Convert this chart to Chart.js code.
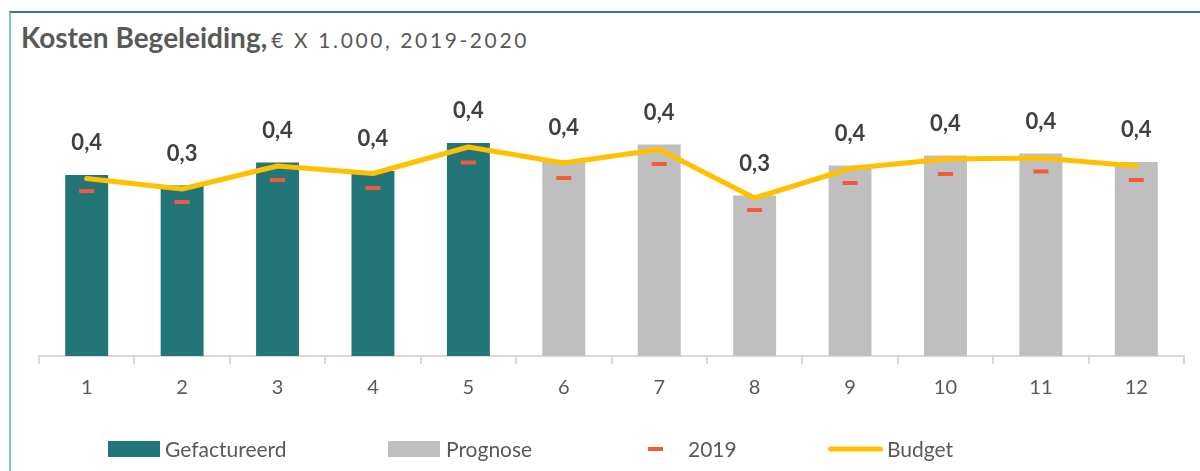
<!DOCTYPE html>
<html lang="nl">
<head>
<meta charset="utf-8">
<title>Kosten Begeleiding</title>
<script src="https://cdn.jsdelivr.net/npm/chart.js@4.4.1/dist/chart.umd.min.js"></script>
<style>
	html, body { margin: 0; padding: 0; background: #fff; }
	#wrap { position: relative; width: 1200px; height: 471px; overflow: hidden; font-family: Lato, sans-serif; }
	#frame { position: absolute; left: 9px; top: 11px; width: 1200px; height: 470px; border-top: 2px solid #2f7e7c; border-left: 2px solid #8cbfbf; }
	#title { position: absolute; left: 21px; top: 23px; line-height: 28px; color: #595959; white-space: nowrap; }
	#title b { font-size: 28px; font-weight: 700; letter-spacing: 0px; }
	#title span { font-size: 21px; letter-spacing: 2.6px; }
	canvas { position: absolute; left: 0; top: 0; }
	.lg { position: absolute; top: 449px; }
	.lg-sym { position: absolute; transform: translateY(-50%); }
	.lg-txt { position: absolute; transform: translateY(-50%); font-size: 21px; color: #595959; white-space: nowrap; line-height: 24px; }
</style>
</head>
<body>
<div id="wrap">
	<div id="frame"></div>
	<div id="title"><b>Kosten Begeleiding,</b> <span>€ X 1.000, 2019-2020</span></div>
	<canvas id="kostenChart" width="1200" height="471"></canvas>
	<div id="legend"></div>
</div>
<script>
// maanden
let months = ['1', '2', '3', '4', '5', '6', '7', '8', '9', '10', '11', '12'];

// x € 1.000
let gefactureerd = [0.362, 0.341, 0.387, 0.370, 0.426, null, null, null, null, null, null, null];
let prognose = [null, null, null, null, null, 0.392, 0.423, 0.321, 0.381, 0.401, 0.405, 0.388];
let vorigJaar = [0.330, 0.308, 0.352, 0.336, 0.387, 0.356, 0.384, 0.292, 0.346, 0.364, 0.369, 0.352];
let budget = [0.355, 0.334, 0.380, 0.365, 0.418, 0.386, 0.413, 0.316, 0.375, 0.394, 0.396, 0.380];

let seriesNames = ['Gefactureerd', 'Prognose', '2019', 'Budget'];

let teal = '#237677';
let grey = '#bfbfbf';
let red = '#f25a3c';
let yellow = '#ffc000';

Chart.defaults.font.family = 'Lato, sans-serif';

// waarde boven de staven, zoals in Excel
let barLabels = {
	id: 'barLabels',
	afterDatasetsDraw: function (chart) {
		let ctx = chart.ctx;
		ctx.save();
		ctx.font = 'bold 22px Lato, sans-serif';
		ctx.fillStyle = '#404040';
		ctx.textAlign = 'center';
		ctx.textBaseline = 'middle';
		[0, 1].forEach(function (dsIndex) {
			let meta = chart.getDatasetMeta(dsIndex);
			let values = chart.data.datasets[dsIndex].data;
			meta.data.forEach(function (bar, i) {
				if (values[i] === null) return;
				let txt = values[i].toFixed(1).replace('.', ',');
				ctx.fillText(txt, bar.x, bar.y - 32);
			});
		});
		ctx.restore();
	}
};

new Chart(document.getElementById('kostenChart'), {
	type: 'bar',
	data: {
		labels: months,
		datasets: [{
			label: seriesNames[0],
			data: gefactureerd,
			backgroundColor: teal,
			grouped: false,
			barPercentage: 0.9,
			categoryPercentage: 0.5,
			order: 3
		}, {
			label: seriesNames[1],
			data: prognose,
			backgroundColor: grey,
			grouped: false,
			barPercentage: 0.9,
			categoryPercentage: 0.5,
			order: 3
		}, {
			type: 'line',
			label: seriesNames[2],
			data: vorigJaar,
			showLine: false,
			pointStyle: 'line',
			pointRadius: 7.5,
			pointBorderWidth: 4,
			borderColor: red,
			backgroundColor: red,
			order: 2
		}, {
			type: 'line',
			label: seriesNames[3],
			data: budget,
			borderColor: yellow,
			borderWidth: 5,
			borderCapStyle: 'round',
			borderJoinStyle: 'round',
			pointRadius: 0,
			tension: 0,
			order: 1
		}]
	},
	options: {
		responsive: false,
		animation: false,
		devicePixelRatio: 1,
		layout: {
			padding: { left: 39, right: 16, top: 106, bottom: 59 }
		},
		scales: {
			y: {
				display: false,
				min: 0,
				max: 0.5
			},
			x: {
				border: { color: '#d9d9d9', width: 2 },
				grid: {
					drawOnChartArea: false,
					drawTicks: true,
					tickLength: 8,
					color: '#d9d9d9',
					lineWidth: 2
				},
				ticks: {
					color: '#595959',
					padding: 12,
					font: { size: 20 }
				}
			}
		},
		plugins: {
			legend: { display: false },
			tooltip: { enabled: false }
		}
	},
	plugins: [barLabels]
});

// legenda
let legendEl = document.getElementById('legend');
let legendItems = [
	{ left: 108, textLeft: 165, sym: 'width:52px;height:16px;background:' + teal },
	{ left: 388, textLeft: 446, sym: 'width:52px;height:16px;background:' + grey },
	{ left: 648, textLeft: 688, sym: 'width:15px;height:4px;background:' + red },
	{ left: 828, textLeft: 887, sym: 'width:55px;height:5px;border-radius:3px;background:' + yellow }
];
legendItems.forEach(function (item, i) {
	let sym = document.createElement('div');
	sym.className = 'lg lg-sym';
	sym.style.cssText = 'left:' + item.left + 'px;' + item.sym;
	legendEl.appendChild(sym);

	let txt = document.createElement('div');
	txt.className = 'lg lg-txt';
	txt.style.left = item.textLeft + 'px';
	txt.textContent = seriesNames[i];
	legendEl.appendChild(txt);
});
</script>
</body>
</html>
